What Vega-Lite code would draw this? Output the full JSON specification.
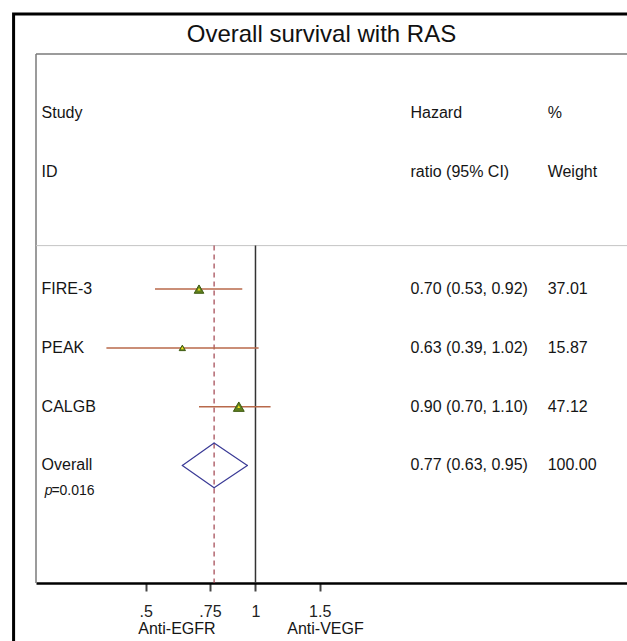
{
  "$schema": "https://vega.github.io/schema/vega-lite/v6.json",
  "width": 591,
  "height": 529,
  "autosize": "none",
  "padding": {"left": 36, "top": 54, "right": 0, "bottom": 58},
  "background": "white",
  "config": {"view": {"stroke": null}, "font": "Liberation Sans", "text": {"font": "Liberation Sans", "fontSize": 16, "color": "#151515"}},
  "datasets": {
    "header": [
      {"c1": "Study", "c2": "Hazard", "c3": "%", "row": 0},
      {"c1": "ID", "c2": "ratio (95% CI)", "c3": "Weight", "row": 1}
    ],
    "trials": [
      {"study": "FIRE-3", "kind": "study", "hr": 0.70, "lo": 0.53, "hi": 0.92, "weight": 37.01, "ci": "0.70 (0.53, 0.92)", "w": "37.01", "row": 3},
      {"study": "PEAK", "kind": "study", "hr": 0.63, "lo": 0.39, "hi": 1.02, "weight": 15.87, "ci": "0.63 (0.39, 1.02)", "w": "15.87", "row": 4},
      {"study": "CALGB", "kind": "study", "hr": 0.90, "lo": 0.70, "hi": 1.10, "weight": 47.12, "ci": "0.90 (0.70, 1.10)", "w": "47.12", "row": 5},
      {"study": "Overall", "kind": "overall", "hr": 0.77, "lo": 0.63, "hi": 0.95, "weight": 100.00, "ci": "0.77 (0.63, 0.95)", "w": "100.00", "row": 6, "p": "=0.016"}
    ]
  },
  "layer": [
    {
      "data": {"values": [{}]},
      "mark": {"type": "rect", "fill": "white", "fillOpacity": 0, "stroke": "#000", "strokeWidth": 3},
      "encoding": {
        "x": {"datum": 0.217, "type": "quantitative", "scale": {"type": "log", "domain": [0.25, 10.45], "nice": false}},
        "x2": {"datum": 40},
        "y": {"datum": -1.68, "type": "quantitative", "scale": {"domain": [-1, 8], "reverse": true, "nice": false, "zero": false}, "axis": null},
        "y2": {"datum": 20}
      }
    },
    {
      "data": {"values": [{}]},
      "mark": {"type": "text", "align": "center", "baseline": "middle", "fontSize": 24, "color": "#111"},
      "encoding": {
        "x": {"datum": 1.517, "type": "quantitative"},
        "y": {"datum": -1.32, "type": "quantitative", "axis": null},
        "text": {"value": "Overall survival with RAS"}
      }
    },
    {
      "data": {"values": [{}]},
      "mark": {"type": "rule", "color": "#7a7a7a", "strokeWidth": 1.5},
      "encoding": {
        "x": {"datum": 0.25, "type": "quantitative"},
        "y": {"datum": -1, "type": "quantitative", "axis": null},
        "y2": {"datum": 8}
      }
    },
    {
      "data": {"values": [{}]},
      "mark": {"type": "rule", "color": "#7a7a7a", "strokeWidth": 1.5},
      "encoding": {
        "x": {"datum": 0.25, "type": "quantitative"},
        "x2": {"datum": 10.45},
        "y": {"datum": -1, "type": "quantitative", "axis": null}
      }
    },
    {
      "data": {"values": [{}]},
      "mark": {"type": "rule", "color": "#c4c4c4", "strokeWidth": 1},
      "encoding": {
        "x": {"datum": 0.25, "type": "quantitative"},
        "x2": {"datum": 10.45},
        "y": {"datum": 2.26, "type": "quantitative", "axis": null}
      }
    },
    {
      "data": {"values": [{}]},
      "mark": {"type": "rule", "color": "#333", "strokeWidth": 1.5},
      "encoding": {
        "x": {"datum": 1, "type": "quantitative"},
        "y": {"datum": 2.26, "type": "quantitative", "axis": null},
        "y2": {"datum": 8}
      }
    },
    {
      "data": {"name": "trials"},
      "transform": [{"filter": "datum.kind === 'overall'"}],
      "mark": {"type": "rule", "color": "#a0404c", "strokeWidth": 1.2, "strokeDash": [5, 4]},
      "encoding": {
        "x": {"field": "hr", "type": "quantitative"},
        "y": {"datum": 2.26, "type": "quantitative", "axis": null},
        "y2": {"datum": 8}
      }
    },
    {
      "data": {"name": "trials"},
      "transform": [{"filter": "datum.kind === 'study'"}],
      "mark": {"type": "rule", "color": "#b8694a", "strokeWidth": 1.5},
      "encoding": {
        "x": {"field": "lo", "type": "quantitative",
          "axis": {"values": [0.5, 0.75, 1, 1.5], "labelExpr": "datum.value < 1 ? replace(toString(datum.value), '0.', '.') : toString(datum.value)", "grid": false, "title": null, "domainColor": "#000", "domainWidth": 2.5, "tickColor": "#444", "tickWidth": 2, "tickSize": 8, "labelFont": "Liberation Sans", "labelFontSize": 16, "labelColor": "#222", "labelPadding": 12, "labelFlush": false, "labelOverlap": false}},
        "x2": {"field": "hi"},
        "y": {"field": "row", "type": "quantitative", "axis": null}
      }
    },
    {
      "data": {"name": "trials"},
      "transform": [{"filter": "datum.kind === 'study'"}],
      "mark": {"type": "point", "shape": "triangle-up", "filled": true, "fill": "#5f7f1f", "stroke": "#3d5a10", "strokeWidth": 1, "opacity": 1},
      "encoding": {
        "x": {"field": "hr", "type": "quantitative"},
        "y": {"field": "row", "type": "quantitative", "axis": null},
        "size": {"field": "weight", "type": "quantitative", "scale": {"domain": [0, 50], "range": [0, 125], "zero": true}, "legend": null}
      }
    },
    {
      "data": {"name": "trials"},
      "transform": [{"filter": "datum.kind === 'study'"}],
      "mark": {"type": "point", "shape": "triangle-up", "filled": true, "fill": "#f2e21a", "size": 9, "opacity": 1},
      "encoding": {
        "x": {"field": "hr", "type": "quantitative"},
        "y": {"field": "row", "type": "quantitative", "axis": null}
      }
    },
    {
      "data": {"name": "trials"},
      "transform": [{"filter": "datum.kind === 'overall'"}],
      "mark": {"type": "rule", "color": "#3a3a96", "strokeWidth": 1.2, "strokeCap": "round"},
      "encoding": {
        "x": {"field": "lo", "type": "quantitative"},
        "x2": {"field": "hr"},
        "y": {"datum": 6, "type": "quantitative", "axis": null},
        "y2": {"datum": 5.62}
      }
    },
    {
      "data": {"name": "trials"},
      "transform": [{"filter": "datum.kind === 'overall'"}],
      "mark": {"type": "rule", "color": "#3a3a96", "strokeWidth": 1.2, "strokeCap": "round"},
      "encoding": {
        "x": {"field": "hr", "type": "quantitative"},
        "x2": {"field": "hi"},
        "y": {"datum": 5.62, "type": "quantitative", "axis": null},
        "y2": {"datum": 6}
      }
    },
    {
      "data": {"name": "trials"},
      "transform": [{"filter": "datum.kind === 'overall'"}],
      "mark": {"type": "rule", "color": "#3a3a96", "strokeWidth": 1.2, "strokeCap": "round"},
      "encoding": {
        "x": {"field": "hi", "type": "quantitative"},
        "x2": {"field": "hr"},
        "y": {"datum": 6, "type": "quantitative", "axis": null},
        "y2": {"datum": 6.38}
      }
    },
    {
      "data": {"name": "trials"},
      "transform": [{"filter": "datum.kind === 'overall'"}],
      "mark": {"type": "rule", "color": "#3a3a96", "strokeWidth": 1.2, "strokeCap": "round"},
      "encoding": {
        "x": {"field": "hr", "type": "quantitative"},
        "x2": {"field": "lo"},
        "y": {"datum": 6.38, "type": "quantitative", "axis": null},
        "y2": {"datum": 6}
      }
    },
    {
      "data": {"name": "header"},
      "mark": {"type": "text", "align": "left", "baseline": "middle"},
      "encoding": {
        "x": {"datum": 0.259, "type": "quantitative"},
        "y": {"field": "row", "type": "quantitative", "axis": null},
        "text": {"field": "c1"}
      }
    },
    {
      "data": {"name": "header"},
      "mark": {"type": "text", "align": "left", "baseline": "middle"},
      "encoding": {
        "x": {"datum": 2.662, "type": "quantitative"},
        "y": {"field": "row", "type": "quantitative", "axis": null},
        "text": {"field": "c2"}
      }
    },
    {
      "data": {"name": "header"},
      "mark": {"type": "text", "align": "left", "baseline": "middle"},
      "encoding": {
        "x": {"datum": 6.33, "type": "quantitative"},
        "y": {"field": "row", "type": "quantitative", "axis": null},
        "text": {"field": "c3"}
      }
    },
    {
      "data": {"name": "trials"},
      "mark": {"type": "text", "align": "left", "baseline": "middle"},
      "encoding": {
        "x": {"datum": 0.259, "type": "quantitative"},
        "y": {"field": "row", "type": "quantitative", "axis": null},
        "text": {"field": "study"}
      }
    },
    {
      "data": {"name": "trials"},
      "mark": {"type": "text", "align": "left", "baseline": "middle"},
      "encoding": {
        "x": {"datum": 2.662, "type": "quantitative"},
        "y": {"field": "row", "type": "quantitative", "axis": null},
        "text": {"field": "ci"}
      }
    },
    {
      "data": {"name": "trials"},
      "mark": {"type": "text", "align": "left", "baseline": "middle"},
      "encoding": {
        "x": {"datum": 6.33, "type": "quantitative"},
        "y": {"field": "row", "type": "quantitative", "axis": null},
        "text": {"field": "w"}
      }
    },
    {
      "data": {"name": "trials"},
      "transform": [{"filter": "datum.kind === 'overall'"}],
      "mark": {"type": "text", "align": "left", "baseline": "middle", "fontSize": 14, "fontStyle": "italic"},
      "encoding": {
        "x": {"datum": 0.264, "type": "quantitative"},
        "y": {"datum": 6.43, "type": "quantitative", "axis": null},
        "text": {"value": "p"}
      }
    },
    {
      "data": {"name": "trials"},
      "transform": [{"filter": "datum.kind === 'overall'"}],
      "mark": {"type": "text", "align": "left", "baseline": "middle", "fontSize": 14},
      "encoding": {
        "x": {"datum": 0.2755, "type": "quantitative"},
        "y": {"datum": 6.43, "type": "quantitative", "axis": null},
        "text": {"field": "p"}
      }
    },
    {
      "data": {"values": [{}]},
      "mark": {"type": "text", "align": "center", "baseline": "middle"},
      "encoding": {
        "x": {"datum": 0.609, "type": "quantitative"},
        "y": {"datum": 8.79, "type": "quantitative", "axis": null},
        "text": {"value": "Anti-EGFR"}
      }
    },
    {
      "data": {"values": [{}]},
      "mark": {"type": "text", "align": "center", "baseline": "middle"},
      "encoding": {
        "x": {"datum": 1.556, "type": "quantitative"},
        "y": {"datum": 8.79, "type": "quantitative", "axis": null},
        "text": {"value": "Anti-VEGF"}
      }
    }
  ]
}
